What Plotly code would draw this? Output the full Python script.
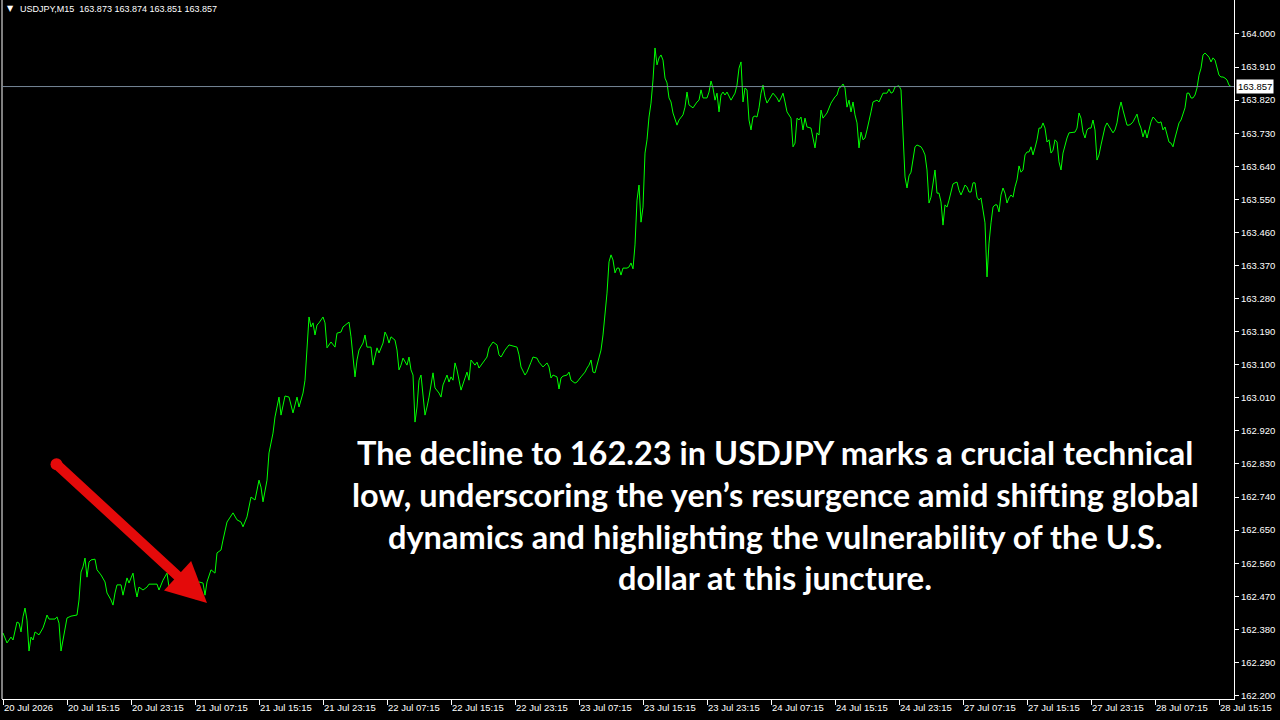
import plotly.graph_objects as go

# ---------------- data ----------------
symbol = "USDJPY,M15"
last_bar_ohlc = ["163.873", "163.874", "163.851", "163.857"]
last_price = 163.857

bars = [
    0, 2, 4, 5, 7, 8, 9, 10, 11, 12, 13, 14, 15, 16, 18, 20, 21, 22, 23, 26,
    27, 28, 29, 30, 31, 32, 34, 37, 38, 39, 40, 41, 42, 43, 44, 46, 47, 49, 51, 52,
    54, 55, 56, 57, 59, 60, 62, 63, 64, 65, 66, 67, 68, 70, 72, 73, 77, 78, 80, 82,
    83, 84, 86, 88, 92, 95, 98, 100, 101, 102, 104, 106, 107, 109, 110, 112, 115, 117, 119, 120,
    122, 123, 124, 126, 128, 129, 130, 132, 133, 135, 136, 138, 139, 141, 143, 145, 147, 148, 150, 151,
    152, 153, 154, 155, 156, 157, 158, 160, 161, 162, 164, 166, 167, 169, 170, 173, 174, 175, 176, 177,
    178, 180, 181, 182, 184, 185, 186, 187, 188, 190, 191, 192, 193, 194, 196, 197, 198, 199, 200, 202,
    203, 204, 205, 206, 207, 208, 209, 210, 211, 212, 213, 215, 216, 218, 219, 220, 222, 223, 224, 225,
    226, 227, 229, 231, 232, 233, 234, 236, 237, 238, 240, 242, 243, 245, 247, 248, 249, 251, 253, 257,
    258, 259, 261, 262, 264, 265, 267, 268, 270, 272, 273, 274, 275, 277, 278, 279, 280, 282, 283, 284,
    286, 287, 289, 291, 292, 293, 294, 295, 296, 297, 298, 299, 300, 301, 302, 303, 304, 305, 306, 307,
    308, 309, 310, 311, 312, 313, 314, 315, 316, 317, 318, 319, 320, 321, 322, 323, 324, 325, 326, 327,
    328, 329, 330, 331, 332, 333, 334, 335, 337, 338, 340, 341, 342, 343, 345, 347, 348, 349, 350, 352,
    353, 354, 355, 356, 357, 358, 359, 360, 361, 362, 364, 366, 367, 368, 369, 370, 371, 372, 373, 374,
    375, 376, 377, 378, 379, 380, 381, 382, 383, 385, 387, 388, 389, 390, 391, 392, 394, 395, 396, 397,
    398, 399, 400, 401, 402, 404, 405, 406, 407, 408, 409, 410, 412, 413, 414, 416, 417, 418, 419, 420,
    421, 422, 423, 424, 425, 426, 427, 428, 429, 430, 431, 432, 433, 434, 435, 437, 438, 440, 442, 443,
    444, 445, 446, 448, 449, 450, 451, 452, 453, 454, 455, 456, 457, 458, 459, 460, 461, 462, 463, 464,
    465, 466, 467, 468, 469, 470, 471, 472, 473, 474, 475, 476, 477, 478, 479, 480, 481, 482, 483, 484,
    485, 486, 487, 488, 489, 490, 491, 492, 493, 494, 495, 496, 497, 498, 499, 500, 501, 502, 503, 504,
    505, 506, 507, 508, 509, 510, 511, 512, 513, 514, 515, 516, 517, 518, 519, 520, 521, 522, 523, 524,
    525, 526, 527, 528, 529, 530, 531, 532, 533, 534, 535, 536, 537, 538, 539, 540, 541, 542, 543, 544,
    545, 546, 547, 548, 549, 550, 551, 552, 553, 554, 555, 556, 557, 558, 559, 560, 561, 562, 563, 564,
    565, 566, 567, 568, 569, 570, 571, 572, 573, 574, 575, 576, 577, 578, 579, 580, 581, 582, 583, 584,
    585, 586, 587, 588, 589, 590, 591, 592, 593, 594, 595, 596, 597, 598, 599, 600, 601, 602, 603, 604,
    605, 606, 607, 608, 609, 610, 611, 612, 613, 614,
]

closes = [
    162.370, 162.343, 162.359, 162.351, 162.400, 162.397, 162.373, 162.414, 162.438, 162.405,
    162.321, 162.359, 162.351, 162.373, 162.365, 162.384, 162.400, 162.419, 162.408, 162.408,
    162.414, 162.397, 162.321, 162.351, 162.386, 162.411, 162.416, 162.419, 162.460, 162.536,
    162.550, 162.574, 162.522, 162.563, 162.569, 162.571, 162.542, 162.528, 162.509, 162.479,
    162.460, 162.446, 162.479, 162.501, 162.501, 162.473, 162.520, 162.506, 162.520, 162.533,
    162.495, 162.468, 162.495, 162.487, 162.495, 162.503, 162.503, 162.487, 162.514, 162.533,
    162.495, 162.487, 162.506, 162.506, 162.495, 162.495, 162.509, 162.506, 162.473, 162.509,
    162.542, 162.533, 162.588, 162.596, 162.623, 162.672, 162.697, 162.678, 162.672, 162.659,
    162.686, 162.710, 162.740, 162.732, 162.786, 162.767, 162.727, 162.786, 162.860, 162.914,
    162.958, 163.012, 162.963, 163.015, 163.012, 162.969, 163.012, 162.985, 163.023, 163.058,
    163.146, 163.230, 163.203, 163.214, 163.181, 163.208, 163.214, 163.230, 163.214, 163.146,
    163.162, 163.148, 163.186, 163.189, 163.203, 163.216, 163.176, 163.113, 163.067, 163.113,
    163.140, 163.159, 163.181, 163.148, 163.148, 163.099, 163.127, 163.146, 163.132, 163.159,
    163.189, 163.178, 163.159, 163.176, 163.167, 163.140, 163.086, 163.099, 163.118, 163.099,
    163.121, 163.086, 163.072, 162.944, 162.985, 163.058, 163.072, 163.023, 162.963, 162.985,
    163.012, 163.078, 163.037, 163.023, 163.012, 163.045, 163.072, 163.053, 163.067, 163.058,
    163.105, 163.086, 163.031, 163.064, 163.080, 163.058, 163.113, 163.099, 163.107, 163.091,
    163.107, 163.121, 163.146, 163.162, 163.154, 163.127, 163.121, 163.140, 163.154, 163.148,
    163.127, 163.094, 163.072, 163.080, 163.107, 163.121, 163.118, 163.107, 163.094, 163.105,
    163.094, 163.064, 163.072, 163.067, 163.034, 163.064, 163.069, 163.072, 163.080, 163.058,
    163.050, 163.053, 163.067, 163.080, 163.091, 163.099, 163.113, 163.080, 163.078, 163.099,
    163.118, 163.140, 163.181, 163.241, 163.295, 163.380, 163.399, 163.385, 163.350, 163.363,
    163.363, 163.344, 163.363, 163.363, 163.363, 163.366, 163.377, 163.361, 163.426, 163.548,
    163.589, 163.488, 163.529, 163.676, 163.712, 163.774, 163.812, 163.875, 163.962, 163.916,
    163.935, 163.943, 163.929, 163.880, 163.867, 163.826, 163.815, 163.785, 163.752, 163.766,
    163.780, 163.801, 163.842, 163.807, 163.799, 163.815, 163.820, 163.848, 163.826, 163.826,
    163.842, 163.872, 163.853, 163.820, 163.839, 163.788, 163.834, 163.842, 163.834, 163.842,
    163.820, 163.839, 163.861, 163.907, 163.924, 163.815, 163.853, 163.848, 163.766, 163.739,
    163.774, 163.777, 163.774, 163.799, 163.839, 163.861, 163.829, 163.812, 163.820, 163.839,
    163.826, 163.815, 163.826, 163.839, 163.815, 163.788, 163.771, 163.693, 163.703, 163.771,
    163.766, 163.774, 163.739, 163.771, 163.747, 163.744, 163.717, 163.690, 163.731, 163.725,
    163.793, 163.771, 163.785, 163.801, 163.812, 163.829, 163.834, 163.853, 163.856, 163.864,
    163.853, 163.801, 163.820, 163.788, 163.815, 163.780, 163.758, 163.690, 163.733, 163.712,
    163.717, 163.739, 163.761, 163.788, 163.815, 163.820, 163.815, 163.839, 163.839, 163.850,
    163.839, 163.842, 163.856, 163.859, 163.848, 163.739, 163.611, 163.581, 163.614, 163.624,
    163.665, 163.693, 163.698, 163.695, 163.693, 163.684, 163.671, 163.630, 163.540, 163.556,
    163.595, 163.630, 163.567, 163.567, 163.543, 163.480, 163.535, 163.529, 163.548, 163.575,
    163.592, 163.595, 163.597, 163.575, 163.562, 163.575, 163.589, 163.584, 163.570, 163.570,
    163.595, 163.595, 163.556, 163.548, 163.554, 163.521, 163.486, 163.339, 163.431, 163.486,
    163.529, 163.535, 163.535, 163.516, 163.562, 163.581, 163.567, 163.540, 163.554, 163.562,
    163.556, 163.584, 163.603, 163.641, 163.624, 163.630, 163.671, 163.679, 163.679, 163.693,
    163.671, 163.690, 163.712, 163.744, 163.744, 163.758, 163.744, 163.706, 163.712, 163.676,
    163.684, 163.712, 163.706, 163.652, 163.630, 163.676, 163.698, 163.717, 163.731, 163.731,
    163.731, 163.733, 163.744, 163.785, 163.771, 163.733, 163.717, 163.739, 163.744, 163.744,
    163.766, 163.739, 163.657, 163.671, 163.698, 163.720, 163.747, 163.758, 163.750, 163.739,
    163.731, 163.739, 163.758, 163.793, 163.815, 163.793, 163.774, 163.752, 163.752, 163.755,
    163.761, 163.771, 163.782, 163.758, 163.744, 163.720, 163.739, 163.717, 163.744, 163.761,
    163.774, 163.769, 163.761, 163.758, 163.761, 163.739, 163.747, 163.725, 163.706, 163.703,
    163.693, 163.717, 163.739, 163.758, 163.766, 163.780, 163.799, 163.839, 163.839, 163.826,
    163.826, 163.834, 163.853, 163.888, 163.907, 163.943, 163.948, 163.943, 163.937, 163.924,
    163.935, 163.929, 163.910, 163.888, 163.883, 163.883, 163.880, 163.875, 163.861, 163.857,
]

x_tick_bars = [0, 32, 64, 96, 128, 160, 192, 224, 256, 288,
               320, 352, 384, 416, 448, 480, 512, 544, 576, 608]
x_tick_labels = [
    "20 Jul 2026", "20 Jul 15:15", "20 Jul 23:15", "21 Jul 07:15", "21 Jul 15:15",
    "21 Jul 23:15", "22 Jul 07:15", "22 Jul 15:15", "22 Jul 23:15", "23 Jul 07:15",
    "23 Jul 15:15", "23 Jul 23:15", "24 Jul 07:15", "24 Jul 15:15", "24 Jul 23:15",
    "27 Jul 07:15", "27 Jul 15:15", "27 Jul 23:15", "28 Jul 07:15", "28 Jul 15:15",
]
y_ticks = [162.200, 162.290, 162.380, 162.470, 162.560, 162.650, 162.740, 162.830,
           162.920, 163.010, 163.100, 163.190, 163.280, 163.370, 163.460, 163.550,
           163.640, 163.730, 163.820, 163.910, 164.000]

caption_lines = [
    "The decline to 162.23 in USDJPY marks a crucial technical",
    "low, underscoring the yen\u2019s resurgence amid shifting global",
    "dynamics and highlighting the vulnerability of the U.S.",
    "dollar at this juncture.",
]

# ---------------- figure ----------------
W, H = 1280, 720
M_L, M_R, M_T, M_B = 2, 46, 0, 21
plot_h = H - M_T - M_B

fig = go.Figure()
fig.add_trace(go.Scatter(
    x=bars, y=closes, mode="lines",
    line=dict(color="#00FF00", width=1),
    hoverinfo="skip",
))

axis_font = dict(family="Liberation Sans", size=9.5, color="white")

fig.update_layout(
    width=W, height=H,
    margin=dict(l=M_L, r=M_R, t=M_T, b=M_B, pad=0),
    paper_bgcolor="black", plot_bgcolor="black",
    showlegend=False,
    xaxis=dict(
        range=[-0.5, 615.5], tickmode="array",
        tickvals=x_tick_bars, ticktext=x_tick_labels,
        ticks="outside", ticklen=5, tickcolor="white", tickwidth=1,
        showline=True, linecolor="white", linewidth=1,
        showgrid=False, zeroline=False, tickfont=axis_font,
        ticklabelposition="outside right",
    ),
    yaxis=dict(
        side="right", range=[162.1905, 164.0925], tickmode="array",
        tickvals=y_ticks, tickformat=".3f",
        ticks="outside", ticklen=4, tickcolor="white", tickwidth=1,
        showline=True, linecolor="white", linewidth=1,
        showgrid=False, zeroline=False, tickfont=axis_font,
    ),
)

# left border
fig.add_shape(type="line", xref="paper", yref="paper", x0=0, x1=0, y0=0, y1=1,
              line=dict(color="white", width=1))
# bid line
fig.add_shape(type="line", xref="paper", yref="y", x0=0, x1=1,
              y0=last_price, y1=last_price,
              line=dict(color="#778899", width=1))

# last price label on the axis
fig.add_annotation(
    xref="paper", yref="y", x=1, y=last_price, xanchor="left", yanchor="middle",
    xshift=2, text=f"{last_price:.3f}", showarrow=False,
    bgcolor="white", borderpad=1,
    font=dict(family="Liberation Sans", size=9.5, color="black"),
)

# header
fig.add_annotation(
    xref="paper", yref="paper", x=0, y=1, xanchor="left", yanchor="top",
    xshift=3, yshift=-2, showarrow=False,
    text="\u25BC",
    font=dict(family="DejaVu Sans", size=8, color="white"),
)
fig.add_annotation(
    xref="paper", yref="paper", x=0, y=1, xanchor="left", yanchor="top",
    xshift=16, yshift=-2, showarrow=False,
    text=symbol + "\u00a0\u00a0" + " ".join(last_bar_ohlc),
    font=dict(family="Liberation Sans", size=9, color="white"),
)

# caption
centers_px = [452, 494, 536, 577]
for line, cy in zip(caption_lines, centers_px):
    fig.add_annotation(
        xref="paper", yref="paper", x=(775 - M_L) / (W - M_L - M_R),
        y=1 - cy / plot_h, xanchor="center", yanchor="middle",
        showarrow=False, text=line,
        font=dict(family="Lato", size=32.5, color="white", weight="bold"),
    )

# red arrow
fig.add_annotation(
    x=102, y=162.452, ax=26, ay=162.833, xref="x", yref="y", axref="x", ayref="y",
    text="", showarrow=True, arrowhead=2, arrowsize=0.8, arrowwidth=10,
    arrowcolor="#E40A0A", arrowside="end+start", startarrowhead=6,
    startarrowsize=0.3, standoff=0, startstandoff=0,
)

fig.write_html(
    "out.html",
    config={"displayModeBar": False},
    post_script="document.body.style.margin='0';document.body.style.padding='0';",
)
